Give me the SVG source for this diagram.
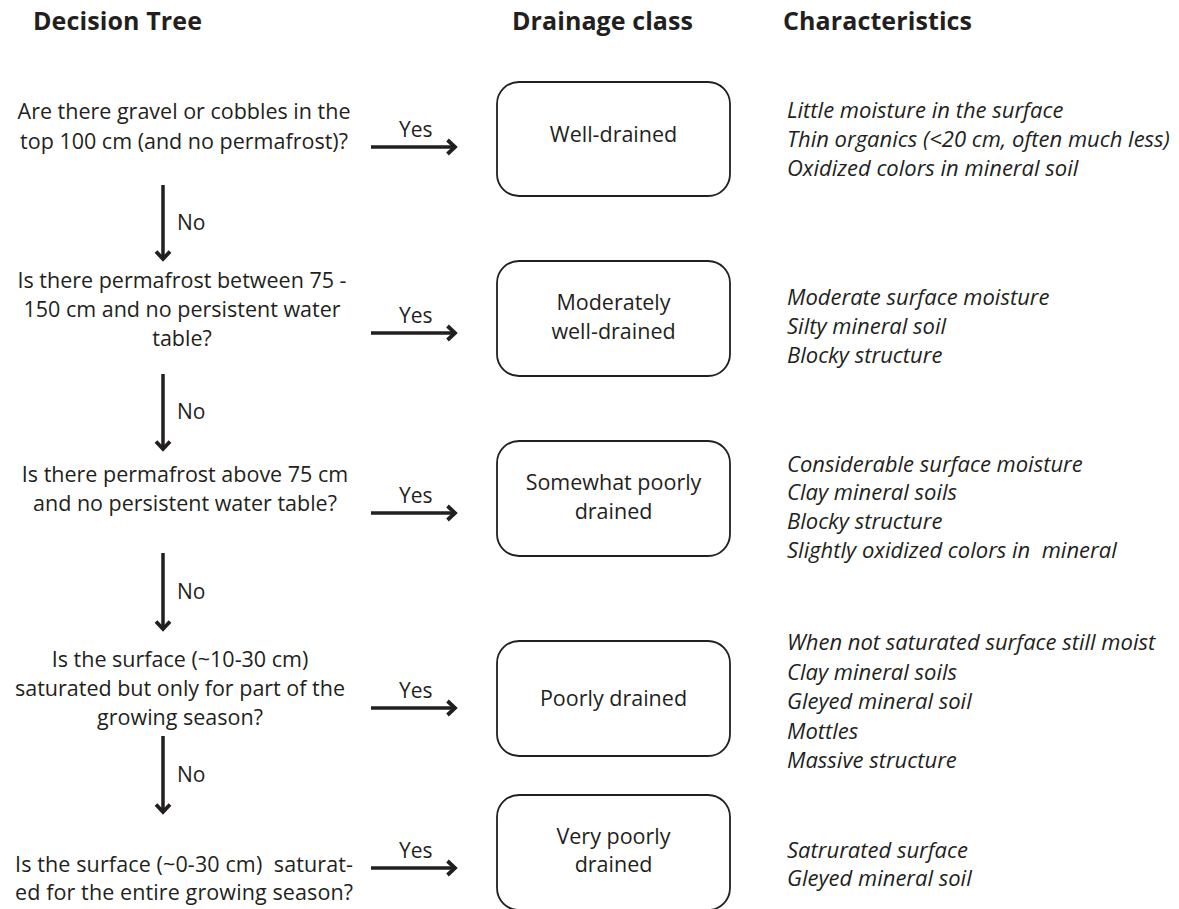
<svg xmlns="http://www.w3.org/2000/svg" width="1179" height="909" viewBox="0 0 1179 909">
<style>
text{font-family:"Open Sans","Noto Sans","Liberation Sans",sans-serif;fill:#231f20;}
.h{font-size:25px;font-weight:bold;}
.q{font-size:21.5px;text-anchor:middle;}
.lbl{font-size:21px;}
.box{fill:#fff;stroke:#231f20;stroke-width:1.8;}
.bt{font-size:21.5px;text-anchor:middle;}
.c{font-size:22px;font-style:italic;white-space:pre;}
.arr{stroke:#231f20;stroke-width:3.5;fill:none;marker-end:url(#ah);}
</style>
<defs>
<marker id="ah" viewBox="0 0 16 18" markerWidth="16" markerHeight="18" refX="10" refY="9" orient="auto" markerUnits="userSpaceOnUse">
<path d="M2.5,2 L10,9 L2.5,16" fill="none" stroke="#231f20" stroke-width="3.8" stroke-linejoin="miter"/>
</marker>
</defs>
<rect width="1179" height="909" fill="#fff"/>
<g id="headers">
<text class="h" x="33" y="30" textLength="169">Decision Tree</text>
<text class="h" x="512" y="30" textLength="181">Drainage class</text>
<text class="h" x="783" y="30" textLength="189">Characteristics</text>
</g>
<g id="connectors">
<path class="arr" d="M371,147 H455"/>
<path class="arr" d="M371,333 H455"/>
<path class="arr" d="M371,513 H455"/>
<path class="arr" d="M371,708 H455"/>
<path class="arr" d="M371,868 H455"/>
<path class="arr" d="M163,185 V259"/>
<path class="arr" d="M163,374 V449"/>
<path class="arr" d="M163,553 V629"/>
<path class="arr" d="M163,736 V812"/>
<text class="lbl" x="399" y="137">Yes</text>
<text class="lbl" x="399" y="323">Yes</text>
<text class="lbl" x="399" y="503">Yes</text>
<text class="lbl" x="399" y="698">Yes</text>
<text class="lbl" x="399" y="858">Yes</text>
<text class="lbl" x="177" y="230">No</text>
<text class="lbl" x="177" y="419">No</text>
<text class="lbl" x="177" y="599">No</text>
<text class="lbl" x="177" y="782">No</text>
</g>
<g id="q1">
<text class="q" x="184" y="119">Are there gravel or cobbles in the</text>
<text class="q" x="184" y="149">top 100 cm (and no permafrost)?</text>
</g>
<g id="q2">
<text class="q" x="182" y="288">Is there permafrost between 75 -</text>
<text class="q" x="182" y="317">150 cm and no persistent water</text>
<text class="q" x="182" y="346">table?</text>
</g>
<g id="q3">
<text class="q" x="185" y="482">Is there permafrost above 75 cm</text>
<text class="q" x="185" y="511">and no persistent water table?</text>
</g>
<g id="q4">
<text class="q" x="180" y="667">Is the surface (~10-30 cm)</text>
<text class="q" x="180" y="696">saturated but only for part of the</text>
<text class="q" x="180" y="725">growing season?</text>
</g>
<g id="q5">
<text class="q" style="text-anchor:start;white-space:pre" x="15" y="872" textLength="338" lengthAdjust="spacing">Is the surface (~0-30 cm)  saturat-</text>
<text class="q" style="text-anchor:start" x="15" y="900" textLength="338" lengthAdjust="spacing">ed for the entire growing season?</text>
</g>
<g id="class1">
<rect class="box" x="497" y="82" width="233" height="114" rx="22"/>
<text class="bt" x="613.5" y="142">Well-drained</text>
</g>
<g id="class2">
<rect class="box" x="497" y="261" width="233" height="115" rx="22"/>
<text class="bt" x="613.5" y="310">Moderately</text>
<text class="bt" x="613.5" y="339">well-drained</text>
</g>
<g id="class3">
<rect class="box" x="497" y="441" width="233" height="115" rx="22"/>
<text class="bt" x="613.5" y="490">Somewhat poorly</text>
<text class="bt" x="613.5" y="519">drained</text>
</g>
<g id="class4">
<rect class="box" x="497" y="641" width="233" height="115" rx="22"/>
<text class="bt" x="613.5" y="706">Poorly drained</text>
</g>
<g id="class5">
<rect class="box" x="497" y="795" width="233" height="115" rx="22"/>
<text class="bt" x="613.5" y="844">Very poorly</text>
<text class="bt" x="613.5" y="872">drained</text>
</g>
<g id="char1">
<text class="c" x="787" y="118">Little moisture in the surface</text>
<text class="c" x="787" y="147">Thin organics (&lt;20 cm, often much less)</text>
<text class="c" x="787" y="176">Oxidized colors in mineral soil</text>
</g>
<g id="char2">
<text class="c" x="787" y="305">Moderate surface moisture</text>
<text class="c" x="787" y="334">Silty mineral soil</text>
<text class="c" x="787" y="363">Blocky structure</text>
</g>
<g id="char3">
<text class="c" x="787" y="472">Considerable surface moisture</text>
<text class="c" x="787" y="500">Clay mineral soils</text>
<text class="c" x="787" y="529">Blocky structure</text>
<text class="c" x="787" y="558">Slightly oxidized colors in  mineral</text>
</g>
<g id="char4">
<text class="c" x="787" y="650">When not saturated surface still moist</text>
<text class="c" x="787" y="680">Clay mineral soils</text>
<text class="c" x="787" y="709">Gleyed mineral soil</text>
<text class="c" x="787" y="739">Mottles</text>
<text class="c" x="787" y="768">Massive structure</text>
</g>
<g id="char5">
<text class="c" x="787" y="858">Satrurated surface</text>
<text class="c" x="787" y="886">Gleyed mineral soil</text>
</g>
</svg>
